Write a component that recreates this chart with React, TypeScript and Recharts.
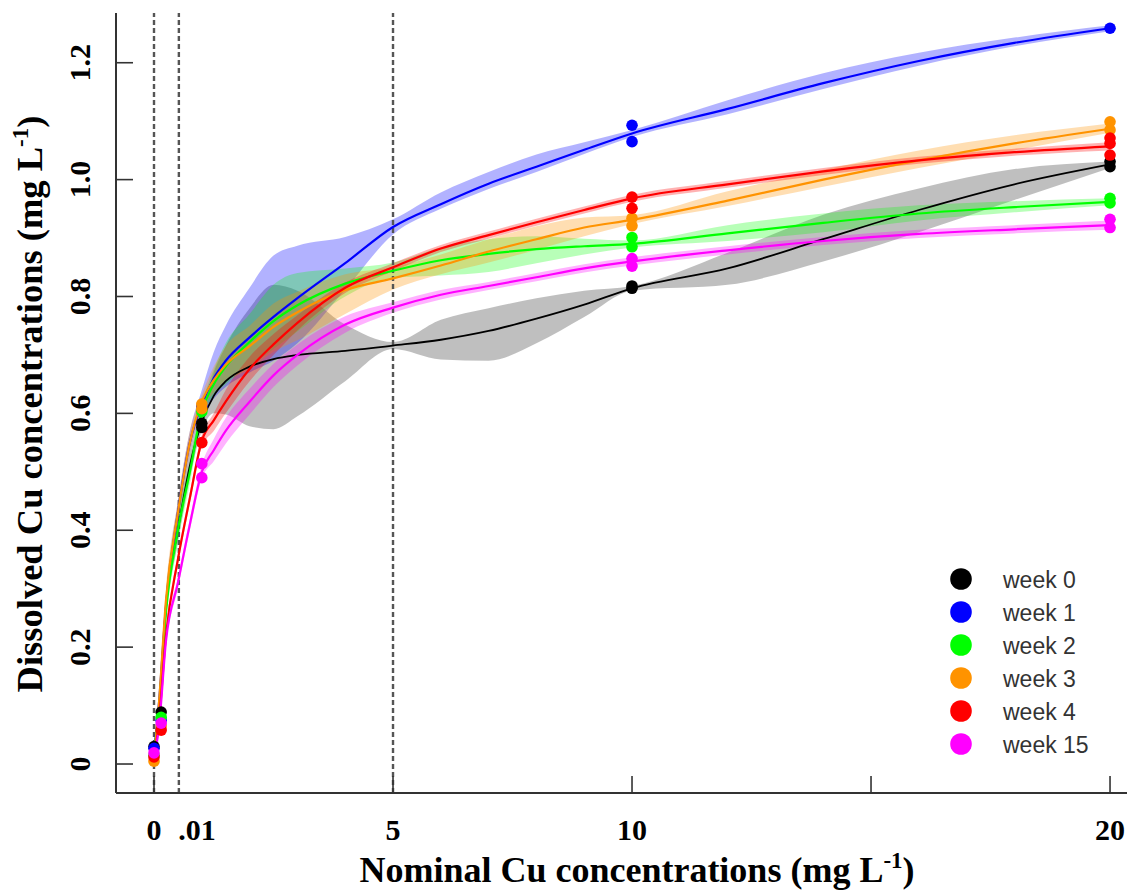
import React from 'react';
import { ComposedChart, Line, Area, Scatter, XAxis, YAxis, ReferenceLine, Legend } from 'recharts';

// ---- axis / tick definitions ----
const xTicks = [0, 0.9, 5, 10, 15, 20];
const xTickLabels = ['0', '.01', '5', '10', '', '20'];
const xTickMarks = [0, 5, 10, 15, 20];
const yTicks = [0, 0.2, 0.4, 0.6, 0.8, 1.0, 1.2];
const yTickLabels = ['0', '0.2', '0.4', '0.6', '0.8', '1.0', '1.2'];
const dashedLinesX = [0, 0.52, 5];

// ---- series ----
const seriesNames = ['week 0', 'week 1', 'week 2', 'week 3', 'week 4', 'week 15'];
const seriesKeys = ['w0', 'w1', 'w2', 'w3', 'w4', 'w15'];
const seriesColors = ['#000000', '#0000ff', '#00ff00', '#ff9300', '#ff0000', '#ff00ff'];
const bandColors = ['#7f7f7f', '#0000ff', '#00ff00', '#ff9300', '#ff0000', '#ff00ff'];
const bandOpacity = [0.5, 0.3, 0.28, 0.3, 0.3, 0.3];

// fitted curves
const fitX = [0, 0.1, 0.25, 0.5, 0.75, 1, 1.25, 1.5, 2, 2.5, 3, 4, 5, 6, 7, 8, 9, 10, 12, 14, 16, 18, 20];
const fitW0 = [0.02, 0.09, 0.27, 0.40, 0.51, 0.585, 0.630, 0.655, 0.680, 0.693, 0.700, 0.707, 0.716, 0.726, 0.741, 0.762, 0.786, 0.814, 0.848, 0.898, 0.948, 0.992, 1.026];
const fitW1 = [0.02, 0.10, 0.27, 0.43, 0.55, 0.615, 0.660, 0.690, 0.730, 0.765, 0.797, 0.857, 0.919, 0.958, 0.993, 1.022, 1.051, 1.079, 1.121, 1.165, 1.203, 1.234, 1.259];
const fitW2 = [0.02, 0.09, 0.26, 0.40, 0.50, 0.603, 0.650, 0.680, 0.722, 0.758, 0.785, 0.822, 0.844, 0.862, 0.873, 0.881, 0.886, 0.890, 0.908, 0.926, 0.942, 0.953, 0.962];
const fitW3 = [0.01, 0.10, 0.28, 0.43, 0.55, 0.620, 0.657, 0.683, 0.715, 0.748, 0.773, 0.811, 0.831, 0.853, 0.877, 0.898, 0.918, 0.931, 0.964, 1.000, 1.033, 1.062, 1.087];
const fitW4 = [0.01, 0.07, 0.22, 0.35, 0.455, 0.553, 0.588, 0.620, 0.676, 0.718, 0.755, 0.815, 0.850, 0.882, 0.905, 0.927, 0.948, 0.968, 0.992, 1.014, 1.033, 1.047, 1.057];
const fitW15 = [0.01, 0.06, 0.21, 0.31, 0.41, 0.500, 0.537, 0.570, 0.620, 0.665, 0.700, 0.752, 0.781, 0.803, 0.818, 0.833, 0.848, 0.860, 0.879, 0.895, 0.907, 0.915, 0.922];

// confidence bands (lower / upper)
const loW0 = [0.01, 0.08, 0.25, 0.38, 0.49, 0.570, 0.600, 0.598, 0.578, 0.573, 0.595, 0.655, 0.710, 0.692, 0.690, 0.720, 0.765, 0.810, 0.820, 0.860, 0.910, 0.965, 1.020];
const hiW0 = [0.03, 0.10, 0.29, 0.42, 0.53, 0.600, 0.670, 0.715, 0.780, 0.820, 0.810, 0.752, 0.722, 0.760, 0.780, 0.797, 0.810, 0.818, 0.875, 0.940, 0.985, 1.018, 1.031];
const loW1 = [0.01, 0.09, 0.25, 0.41, 0.53, 0.595, 0.625, 0.645, 0.670, 0.690, 0.720, 0.812, 0.906, 0.950, 0.984, 1.013, 1.044, 1.073, 1.112, 1.155, 1.195, 1.228, 1.254];
const hiW1 = [0.03, 0.11, 0.29, 0.45, 0.57, 0.640, 0.705, 0.750, 0.815, 0.870, 0.887, 0.902, 0.932, 0.978, 1.013, 1.043, 1.064, 1.085, 1.136, 1.182, 1.217, 1.243, 1.264];
const loW2 = [0.01, 0.08, 0.24, 0.38, 0.48, 0.590, 0.630, 0.650, 0.680, 0.710, 0.740, 0.800, 0.832, 0.836, 0.842, 0.857, 0.872, 0.884, 0.895, 0.910, 0.930, 0.944, 0.956];
const hiW2 = [0.03, 0.10, 0.28, 0.42, 0.52, 0.616, 0.675, 0.720, 0.770, 0.820, 0.840, 0.848, 0.858, 0.884, 0.898, 0.903, 0.899, 0.896, 0.922, 0.942, 0.956, 0.963, 0.968];
const loW3 = [0.00, 0.09, 0.26, 0.41, 0.53, 0.605, 0.635, 0.655, 0.675, 0.705, 0.725, 0.770, 0.812, 0.838, 0.858, 0.880, 0.903, 0.924, 0.955, 0.988, 1.020, 1.050, 1.080];
const hiW3 = [0.02, 0.11, 0.30, 0.45, 0.57, 0.632, 0.680, 0.715, 0.750, 0.788, 0.808, 0.838, 0.850, 0.872, 0.898, 0.920, 0.935, 0.939, 0.980, 1.017, 1.050, 1.076, 1.096];
const loW4 = [0.00, 0.06, 0.21, 0.34, 0.445, 0.543, 0.570, 0.600, 0.655, 0.700, 0.742, 0.806, 0.843, 0.876, 0.899, 0.921, 0.942, 0.962, 0.986, 1.008, 1.027, 1.041, 1.050];
const hiW4 = [0.02, 0.08, 0.23, 0.36, 0.465, 0.563, 0.600, 0.640, 0.697, 0.736, 0.768, 0.824, 0.857, 0.888, 0.911, 0.933, 0.954, 0.974, 0.998, 1.020, 1.039, 1.053, 1.064];
const loW15 = [0.00, 0.05, 0.20, 0.30, 0.40, 0.488, 0.518, 0.548, 0.598, 0.645, 0.682, 0.738, 0.772, 0.795, 0.811, 0.826, 0.841, 0.853, 0.872, 0.888, 0.900, 0.908, 0.914];
const hiW15 = [0.02, 0.07, 0.22, 0.32, 0.42, 0.512, 0.556, 0.592, 0.642, 0.685, 0.718, 0.766, 0.790, 0.811, 0.825, 0.840, 0.855, 0.867, 0.886, 0.902, 0.914, 0.922, 0.930];

// measured points
const ptsW0X = [0, 0.15, 1, 1, 10, 10, 20, 20];
const ptsW0Y = [0.03, 0.089, 0.583, 0.576, 0.814, 0.818, 1.031, 1.022];
const ptsW1X = [0, 0.15, 1, 10, 10, 20];
const ptsW1Y = [0.027, 0.075, 0.612, 1.093, 1.065, 1.259];
const ptsW2X = [0, 0.15, 1, 10, 10, 20, 20];
const ptsW2Y = [0.015, 0.08, 0.603, 0.901, 0.885, 0.968, 0.960];
const ptsW3X = [0, 0.15, 1, 1, 10, 10, 20, 20];
const ptsW3Y = [0.005, 0.065, 0.616, 0.608, 0.934, 0.921, 1.099, 1.085];
const ptsW4X = [0, 0.15, 1, 10, 10, 20, 20, 20];
const ptsW4Y = [0.012, 0.058, 0.550, 0.970, 0.951, 1.071, 1.062, 1.042];
const ptsW15X = [0, 0.15, 1, 1, 10, 10, 20, 20];
const ptsW15Y = [0.019, 0.07, 0.514, 0.490, 0.865, 0.852, 0.932, 0.918];

const fits = [fitW0, fitW1, fitW2, fitW3, fitW4, fitW15];
const los = [loW0, loW1, loW2, loW3, loW4, loW15];
const his = [hiW0, hiW1, hiW2, hiW3, hiW4, hiW15];
const ptsX = [ptsW0X, ptsW1X, ptsW2X, ptsW3X, ptsW4X, ptsW15X];
const ptsY = [ptsW0Y, ptsW1Y, ptsW2Y, ptsW3Y, ptsW4Y, ptsW15Y];

const chartRows = fitX.map((x, i) => {
  const row: any = { x };
  seriesKeys.forEach((k, s) => {
    row[k] = fits[s][i];
    row[k + 'band'] = [los[s][i], his[s][i]];
  });
  return row;
});

const pointSets = seriesKeys.map((_, s) => ptsX[s].map((x, i) => ({ x, y: ptsY[s][i] })));

const SERIF = '"Liberation Serif", "Times New Roman", serif';
const SANS = '"Liberation Sans", Arial, sans-serif';
const AXIS_COLOR = '#333';

const XTick = (props: any) => {
  const { x, y, payload } = props;
  const i = xTicks.indexOf(payload.value);
  const label = i >= 0 ? xTickLabels[i] : '';
  const mark = xTickMarks.includes(payload.value);
  return (
    <g>
      {mark && <line x1={x} x2={x} y1={y} y2={y - 17} stroke={AXIS_COLOR} strokeWidth={1.6} />}
      <text x={x} y={y + 47} textAnchor="middle" fontFamily={SERIF} fontWeight="bold" fontSize={30} fill="#000">
        {label}
      </text>
    </g>
  );
};

const YTick = (props: any) => {
  const { x, y, payload } = props;
  const i = yTicks.indexOf(payload.value);
  const label = i >= 0 ? yTickLabels[i] : '';
  const bx = 90;
  return (
    <g>
      <line x1={x} x2={x + 17} y1={y} y2={y} stroke={AXIS_COLOR} strokeWidth={1.6} />
      <text x={bx} y={y} transform={`rotate(-90 ${bx} ${y})`} textAnchor="middle" fontFamily={SERIF} fontWeight="bold" fontSize={30} fill="#000">
        {label}
      </text>
    </g>
  );
};

const XTitle = () => (
  <text x={637} y={882} textAnchor="middle" fontFamily={SERIF} fontWeight="bold" fontSize={36} fill="#000">
    Nominal Cu concentrations (mg L<tspan dy={-14} fontSize={23}>-1</tspan><tspan dy={14}>)</tspan>
  </text>
);

const YTitle = () => (
  <text x={42} y={404} transform="rotate(-90 42 404)" textAnchor="middle" fontFamily={SERIF} fontWeight="bold" fontSize={36.5} fill="#000">
    Dissolved Cu concentrations (mg L<tspan dy={-14} fontSize={23}>-1</tspan><tspan dy={14}>)</tspan>
  </text>
);

const DashedShape = (p: any) => (
  <line x1={p.x1} y1={p.y1} x2={p.x2} y2={p.y2} stroke="#555" strokeWidth={2.4} strokeDasharray="5 3" />
);

const LegendBox = () => (
  <div style={{ fontFamily: SANS, fontSize: 23, color: '#333' }}>
    {seriesNames.map((n, i) => (
      <div key={n} style={{ position: 'relative', height: 33 }}>
        <svg width={24} height={24} style={{ position: 'absolute', left: 0, top: 4.5 }}>
          <circle cx={12} cy={12} r={10.8} fill={seriesColors[i]} />
        </svg>
        <span style={{ position: 'absolute', left: 54, top: 7, lineHeight: '23px', whiteSpace: 'nowrap' }}>{n}</span>
      </div>
    ))}
  </div>
);

export default function App() {
  return (
    <div style={{ position: 'absolute', left: 0, top: 0, background: '#fff' }}>
      <ComposedChart width={1129} height={892} data={chartRows} margin={{ top: 13, right: 2, left: 0, bottom: 0 }}>
        <XAxis
          dataKey="x"
          type="number"
          domain={[-0.795, 20.355]}
          allowDataOverflow
          ticks={xTicks}
          interval={0}
          tick={<XTick />}
          tickLine={false}
          tickSize={0}
          tickMargin={0}
          height={99}
          axisLine={{ stroke: AXIS_COLOR, strokeWidth: 2 }}
          label={{ content: () => <XTitle /> }}
        />
        <YAxis
          type="number"
          domain={[-0.0496, 1.2851]}
          allowDataOverflow
          ticks={yTicks}
          interval={0}
          tick={<YTick />}
          tickLine={false}
          tickSize={0}
          tickMargin={0}
          width={116}
          axisLine={{ stroke: AXIS_COLOR, strokeWidth: 2 }}
          label={{ content: () => <YTitle /> }}
        />
        {dashedLinesX.map((x) => (
          <ReferenceLine key={'d' + x} x={x} stroke="#555" strokeWidth={2.4} strokeDasharray="5 3" shape={DashedShape} />
        ))}
        {seriesKeys.map((k, s) => (
          <Area
            key={k + 'band'}
            dataKey={k + 'band'}
            type="monotone"
            stroke="none"
            fill={bandColors[s]}
            fillOpacity={bandOpacity[s]}
            isAnimationActive={false}
            legendType="none"
          />
        ))}
        {seriesKeys.map((k, s) => (
          <Line
            key={k}
            dataKey={k}
            type="monotone"
            stroke={seriesColors[s]}
            strokeWidth={s === 0 ? 1.8 : 2.2}
            dot={false}
            activeDot={false}
            isAnimationActive={false}
            name={seriesNames[s]}
          />
        ))}
        {seriesKeys.map((k, s) => (
          <Scatter
            key={k + 'pts'}
            data={pointSets[s]}
            dataKey="y"
            fill={seriesColors[s]}
            isAnimationActive={false}
            legendType="none"
            shape={(p: any) => <circle cx={p.cx} cy={p.cy} r={5.8} fill={seriesColors[s]} />}
          />
        ))}
        <Legend
          layout="vertical"
          align="center"
          verticalAlign="middle"
          wrapperStyle={{ left: 949, top: 562, width: 180 }}
          content={() => <LegendBox />}
        />
      </ComposedChart>
    </div>
  );
}
